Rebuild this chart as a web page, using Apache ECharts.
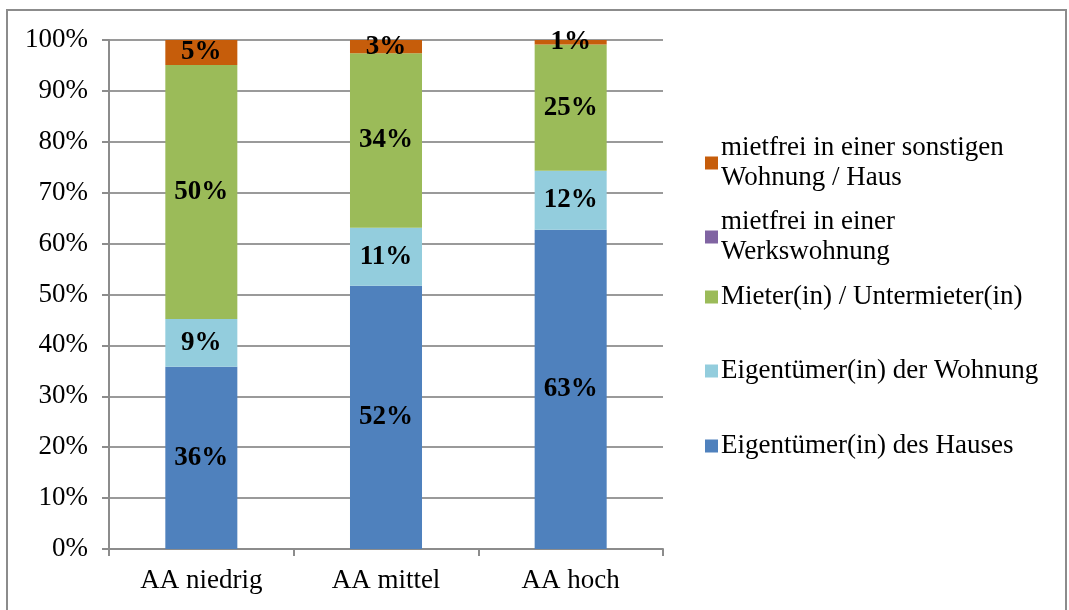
<!DOCTYPE html>
<html>
<head>
<meta charset="utf-8">
<script src="https://cdn.jsdelivr.net/npm/echarts@6/dist/echarts.min.js"></script>
<style>
  html, body { margin: 0; padding: 0; background: #fff; }
  #chart { width: 1069px; height: 610px; }
</style>
</head>
<body>
<div id="chart"></div>
<script>
// Wohnsituation nach AA-Gruppe (Anteile in %)
const categories = ['AA niedrig', 'AA mittel', 'AA hoch'];
const seriesNames = [
  'Eigentümer(in) des Hauses',
  'Eigentümer(in) der Wohnung',
  'Mieter(in) / Untermieter(in)',
  'mietfrei in einer Werkswohnung',
  'mietfrei in einer sonstigen Wohnung / Haus'
];
const eigentuemerHaus    = [35.8, 51.7, 62.7];
const eigentuemerWohnung = [9.4, 11.4, 11.6];
const mieter             = [49.9, 34.3, 24.8];
const mietfreiWerk       = [0, 0, 0];
const mietfreiSonstig    = [4.9, 2.6, 0.9];
const yTicks = [0, 10, 20, 30, 40, 50, 60, 70, 80, 90, 100];

const colors = ['#4F81BD', '#93CDDD', '#9BBB59', '#8064A2', '#C65D0B'];
const values = [eigentuemerHaus, eigentuemerWohnung, mieter, mietfreiWerk, mietfreiSonstig];
const serif = '"Liberation Serif", "Times New Roman", serif';

const chart = echarts.init(document.getElementById('chart'));

const series = seriesNames.map((name, i) => ({
  name: name,
  type: 'bar',
  stack: 'total',
  barWidth: '39%',
  data: values[i],
  itemStyle: { color: colors[i] },
  label: {
    show: true,
    position: 'inside',
    fontFamily: serif,
    fontWeight: 'bold',
    fontSize: 27,
    color: '#000',
    formatter: p => (p.value > 0 ? Math.round(p.value) + '%' : '')
  }
}));

// legend entries, listed top to bottom in reverse stacking order
const legendLayout = [
  { idx: 4, top: 133, text: 'mietfrei in einer sonstigen\nWohnung / Haus', twoLine: true },
  { idx: 3, top: 207, text: 'mietfrei in einer\nWerkswohnung', twoLine: true },
  { idx: 2, top: 282, text: 'Mieter(in) / Untermieter(in)', twoLine: false },
  { idx: 1, top: 356, text: 'Eigentümer(in) der Wohnung', twoLine: false },
  { idx: 0, top: 431, text: 'Eigentümer(in) des Hauses', twoLine: false }
];

const legends = legendLayout.map(l => ({
  data: [seriesNames[l.idx]],
  left: 705,
  top: l.twoLine ? l.top - 15 : l.top,
  orient: 'vertical',
  icon: 'rect',
  itemWidth: 13,
  itemHeight: 13,
  itemGap: 0,
  padding: 0,
  selectedMode: false,
  formatter: () => l.text,
  textStyle: {
    fontFamily: serif,
    fontSize: 27,
    color: '#000',
    lineHeight: 30,
    padding: l.twoLine ? [30, 0, 0, -2] : [0, 0, 0, -2]
  }
}));

chart.setOption({
  animation: false,
  backgroundColor: '#fff',
  grid: { left: 109, right: 406, top: 40, bottom: 61 },
  legend: legends,
  xAxis: {
    type: 'category',
    data: categories,
    axisLine: { lineStyle: { color: '#8c8c8c', width: 2 } },
    axisTick: { show: true, length: 7, alignWithLabel: false, lineStyle: { color: '#8c8c8c', width: 2 } },
    axisLabel: { fontFamily: serif, fontSize: 27, color: '#000', margin: 18 }
  },
  yAxis: {
    type: 'value',
    min: 0,
    max: 100,
    interval: 10,
    axisLine: { show: true, lineStyle: { color: '#8c8c8c', width: 2 } },
    axisTick: { show: true, length: 7, lineStyle: { color: '#8c8c8c', width: 2 } },
    splitLine: { lineStyle: { color: '#9a9a9a', width: 2 } },
    axisLabel: {
      fontFamily: serif,
      fontSize: 27,
      color: '#000',
      margin: 21,
      formatter: v => (yTicks.includes(v) ? v + '%' : '')
    }
  },
  graphic: [{
    type: 'rect',
    shape: { x: 7, y: 10, width: 1059, height: 620 },
    style: { fill: 'none', stroke: '#8c8c8c', lineWidth: 2 },
    silent: true,
    z: -1
  }],
  series: series
});
</script>
</body>
</html>
